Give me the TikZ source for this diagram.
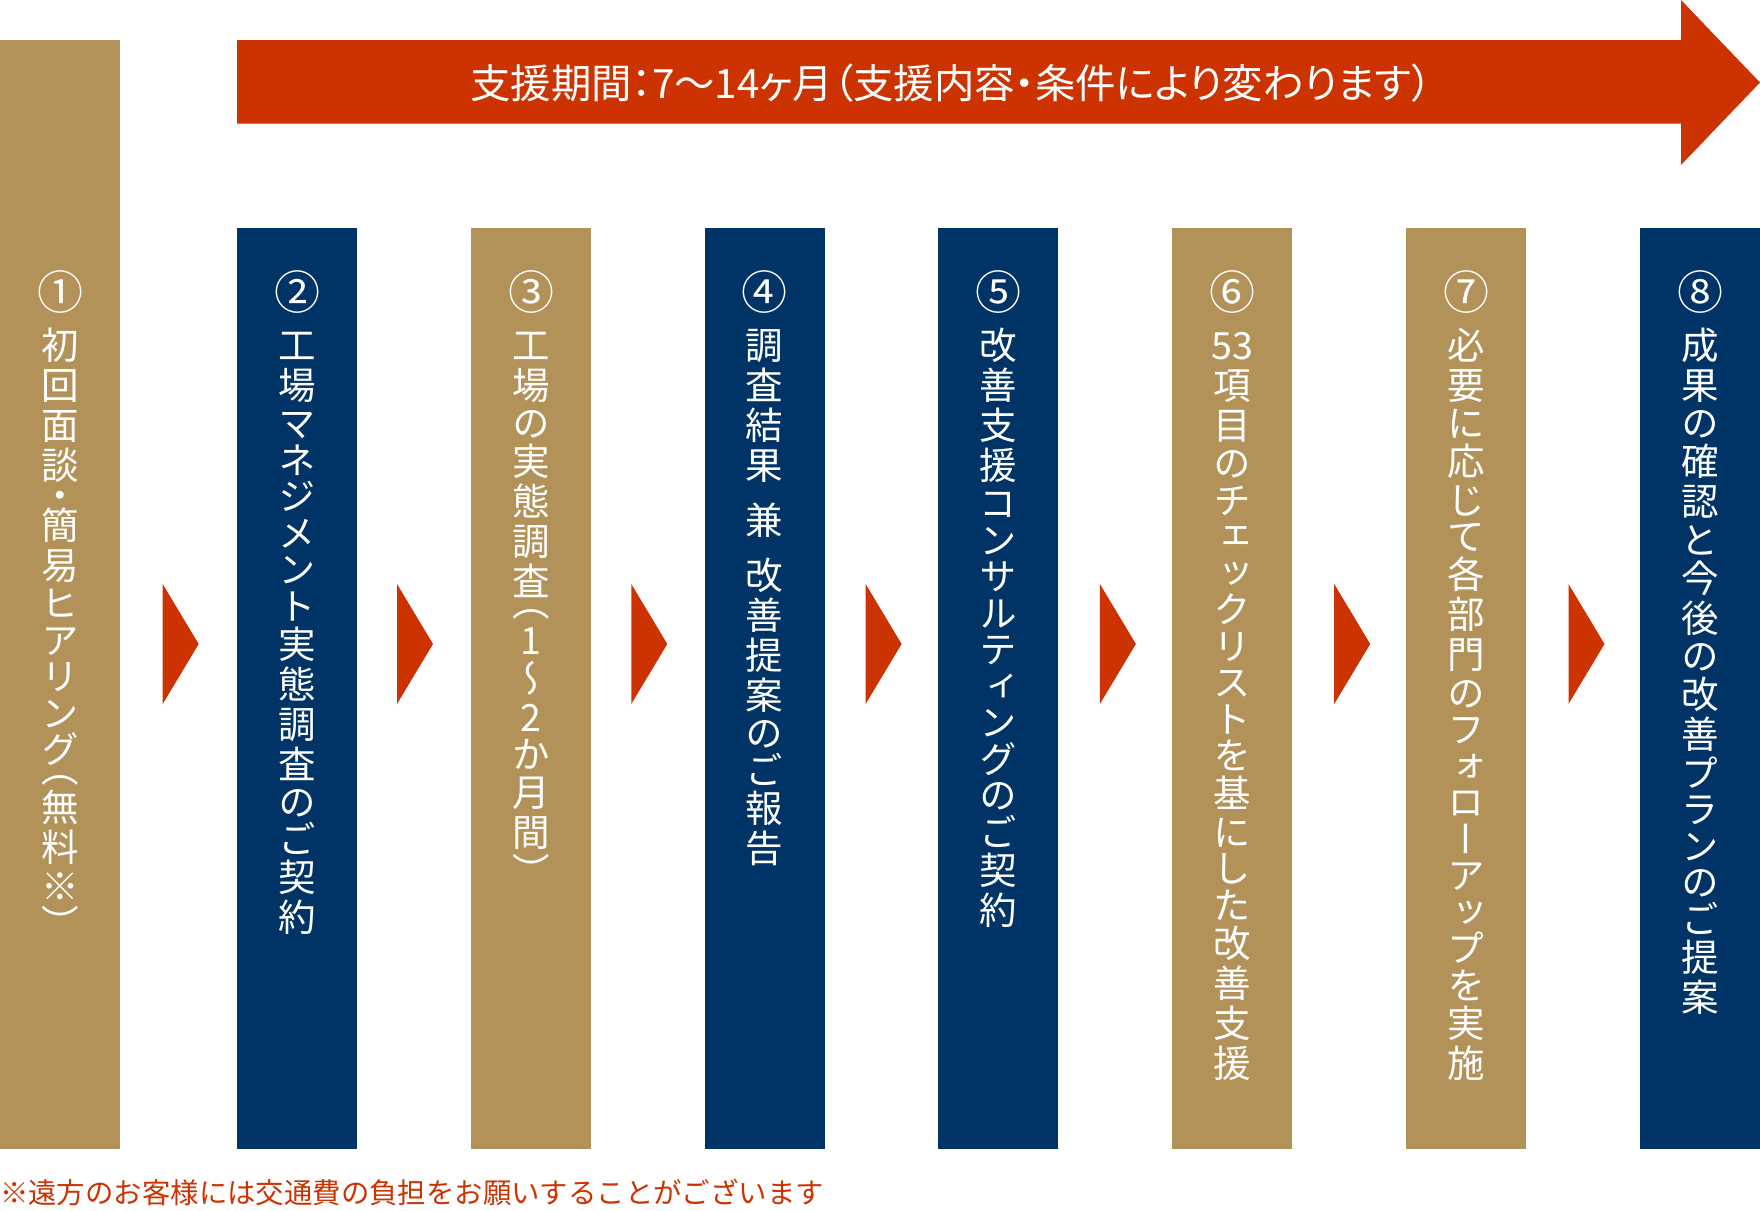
\documentclass[tikz,border=0pt]{standalone}
\usepackage{fontspec}
\newfontfamily\jp{Noto Sans CJK JP}
\newfontfamily\vjp[RawFeature=+vert]{Noto Sans CJK JP}
\newfontfamily\hjp[RawFeature=+palt]{Noto Sans CJK JP}
\definecolor{gold}{HTML}{B3925A}
\definecolor{navy}{HTML}{003466}
\definecolor{ared}{HTML}{CC3300}
\newlength\tcw \tcw=60pt
\newcommand\tcell[2]{\vbox to #1{\vss\hbox to \tcw{\hss#2\hss}\vss}}
\newcommand\tfull[2]{\tcell{#1}{\raisebox{0pt}[.88em][.12em]{#2}}}
\newcommand\tcyFT{\tfull{40pt}{53}}
\newcommand\TSP{\tcell{15pt}{}}
\makeatletter
\def\tate#1{\vbox{\offinterlineskip\tate@loop#1\tate@end}}
\def\tate@end{\tate@end}
\def\tate@loop#1{\ifx\tate@end#1\else\tate@cell{#1}\expandafter\tate@loop\fi}
\def\tate@cell#1{%
  \ifcat\noexpand#1\relax #1%
  \else
    \ifnum`#1=`（ \tcell{20pt}{\raisebox{0pt}[.38em][.12em]{#1}}%
    \else\ifnum`#1=`） \tcell{20pt}{\raisebox{-.5em}[.38em][.12em]{#1}}%
    \else\ifnum`#1=`・ \tcell{20pt}{\raisebox{-.25em}[.38em][.12em]{#1}}%
    \else\ifnum`#1=`※ \tfull{36.5pt}{#1}%
    \else\ifnum`#1>"303F
      \ifnum`#1<"3100 \tfull{36.5pt}{#1}\else\tfull{40pt}{#1}\fi
    \else\ifnum`#1<"100 \tfull{37pt}{#1}%
    \else \tfull{40pt}{#1}%
    \fi\fi\fi\fi\fi\fi
  \fi}
\makeatother
\tikzset{
  col/.style={rectangle, draw=none, inner sep=0pt, outer sep=0pt, minimum width=120pt, anchor=north west},
  vtext/.style={anchor=north, inner sep=0pt, text=white, font=\vjp\fontsize{37.5}{37.5}\selectfont},
  num/.style={anchor=base, inner sep=0pt, text=white, font=\jp\fontsize{46}{46}\selectfont},
  tri/.style={fill=ared},
}
\begin{document}
\begin{tikzpicture}[x=1pt,y=-1pt]
\useasboundingbox (0,0) rectangle (1760,1210);
% period arrow
\fill[ared] (237,40) -- (1681,40) -- (1681,0) -- (1760,82.5) -- (1681,165) -- (1681,123.5) -- (237,123.5) -- cycle;
\node[anchor=base, inner sep=0pt, text=white, font=\hjp\fontsize{40.4}{40.4}\selectfont] (period) at (951,98.8) {支援期間：7～14ヶ月（支援内容・条件により変わります）};
% columns
\node[col, fill=gold, minimum height=1109pt] (c1) at (0,40) {};
\node[col, fill=navy, minimum height=921pt] (c2) at (237,228) {};
\node[col, fill=gold, minimum height=921pt] (c3) at (471,228) {};
\node[col, fill=navy, minimum height=921pt] (c4) at (704.6,228) {};
\node[col, fill=navy, minimum height=921pt] (c5) at (938.4,228) {};
\node[col, fill=gold, minimum height=921pt] (c6) at (1172.2,228) {};
\node[col, fill=gold, minimum height=921pt] (c7) at (1406,228) {};
\node[col, fill=navy, minimum height=921pt] (c8) at (1640,228) {};
% arrows between steps
\foreach \k in {0,...,6}
  \fill[tri] ({162.7+\k*234.3},584) -- ++(36,60) -- ++(-36,60) -- cycle;
% numbers
\node[num] (n1) at (60,309.5) {①};
\node[num] (n2) at (297,309.5) {②};
\node[num] (n3) at (531,309.5) {③};
\node[num] (n4) at (764.6,309.5) {④};
\node[num] (n5) at (998.4,309.5) {⑤};
\node[num] (n6) at (1232.2,309.5) {⑥};
\node[num] (n7) at (1466,309.5) {⑦};
\node[num] (n8) at (1700,309.5) {⑧};
% vertical texts
\node[vtext] (t1) at (60,325) {\tate{初回面談・簡易ヒアリング（無料※）}};
\node[vtext] (t2) at (297,325) {\tate{工場マネジメント実態調査のご契約}};
\node[vtext] (t3) at (531,325) {\tate{工場の実態調査（1～2か月間）}};
\node[vtext] (t4) at (764.6,325) {\tate{調査結果\TSP 兼\TSP 改善提案のご報告}};
\node[vtext] (t5) at (998.4,325) {\tate{改善支援コンサルティングのご契約}};
\node[vtext] (t6) at (1232.2,325) {\tate{\tcyFT 項目のチェックリストを基にした改善支援}};
\node[vtext] (t7) at (1466,325) {\tate{必要に応じて各部門のフォローアップを実施}};
\node[vtext] (t8) at (1700,325) {\tate{成果の確認と今後の改善プランのご提案}};
% footnote
\node[anchor=base west, inner sep=0pt, text=ared, font=\jp\fontsize{28.4}{28.4}\selectfont] (note) at (0,1203.8) {※遠方のお客様には交通費の負担をお願いすることがございます};
\end{tikzpicture}
\end{document}
